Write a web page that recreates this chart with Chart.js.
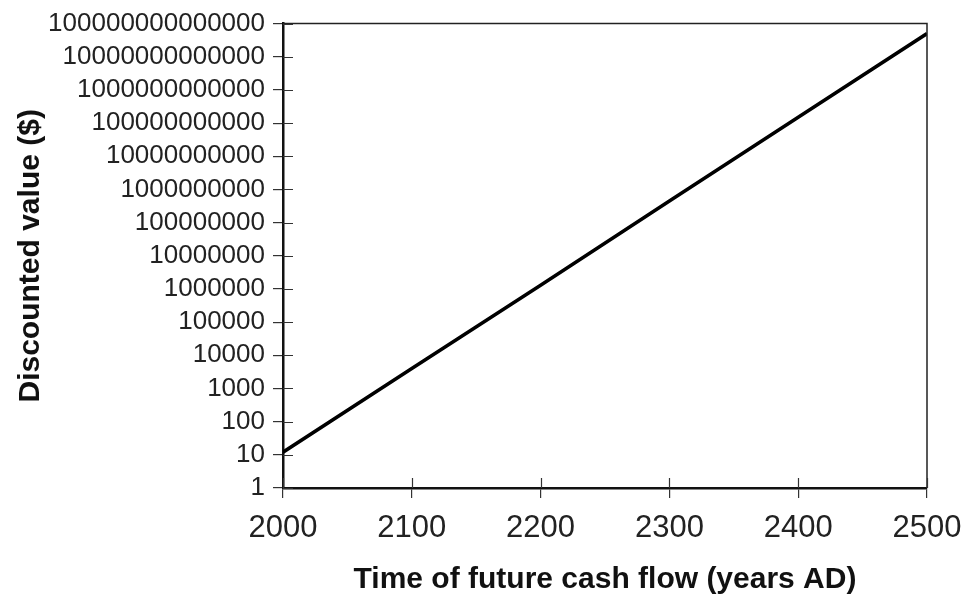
<!DOCTYPE html>
<html>
<head>
<meta charset="utf-8">
<script src="https://cdn.jsdelivr.net/npm/chart.js@4/dist/chart.umd.min.js"></script>
<style>
  html, body { margin: 0; padding: 0; background: #fff; }
  #wrap { width: 964px; height: 600px; }
</style>
</head>
<body>
<div id="wrap"><canvas id="c" width="964" height="600"></canvas></div>
<script>
// Discounted value of a future cash flow, by year
const years = [2000, 2100, 2200, 2300, 2400, 2500];
const discountedValues = [12, 4.0e3, 1.3e6, 4.5e8, 1.5e11, 5.0e13];

const xTickValues = [2000, 2100, 2200, 2300, 2400, 2500];
const yTickValues = [1, 10, 100, 1000, 10000, 100000, 1000000, 10000000, 100000000,
  1000000000, 10000000000, 100000000000, 1000000000000, 10000000000000,
  100000000000000];
const yTickLabels = ['1', '10', '100', '1000', '10000', '100000', '1000000', '10000000',
  '100000000', '1000000000', '10000000000', '100000000000', '1000000000000',
  '10000000000000', '100000000000000'];

const FONT = "'Liberation Sans', Arial, Helvetica, sans-serif";

// Frame on top/right plus tick stubs that reach into the plot area
const framePlugin = {
  id: 'frame',
  afterDraw(chart) {
    const { ctx, chartArea: a, scales } = chart;
    ctx.save();
    ctx.strokeStyle = '#222';
    ctx.lineWidth = 1.5;
    ctx.beginPath();
    ctx.moveTo(a.left, a.top); ctx.lineTo(a.right, a.top); ctx.lineTo(a.right, a.bottom);
    ctx.stroke();
    ctx.strokeStyle = '#333';
    ctx.lineWidth = 1.2;
    ctx.beginPath();
    scales.y.ticks.forEach(t => {
      const py = Math.round(scales.y.getPixelForValue(t.value)) + 0.5;
      ctx.moveTo(a.left, py); ctx.lineTo(a.left + 10, py);
    });
    scales.x.ticks.forEach(t => {
      const px = Math.round(scales.x.getPixelForValue(t.value)) + 0.5;
      ctx.moveTo(px, a.bottom); ctx.lineTo(px, a.bottom - 10);
    });
    ctx.stroke();
    ctx.restore();
  }
};

new Chart(document.getElementById('c'), {
  type: 'line',
  data: {
    datasets: [{
      data: years.map((x, i) => ({ x, y: discountedValues[i] })),
      borderColor: '#000',
      borderWidth: 3.5,
      pointRadius: 0,
      tension: 0,
      fill: false
    }]
  },
  options: {
    responsive: false,
    animation: false,
    layout: { padding: { left: 13, right: 37, top: 23, bottom: 2 } },
    plugins: { legend: { display: false }, tooltip: { enabled: false } },
    scales: {
      x: {
        type: 'linear',
        min: 2000,
        max: 2500,
        afterBuildTicks(scale) { scale.ticks = xTickValues.map(v => ({ value: v })); },
        afterFit(scale) {
          scale.height = 110;
          scale.paddingLeft = 0;
          scale.paddingRight = 0;
        },
        ticks: {
          callback: v => String(v),
          color: '#222',
          font: { family: FONT, size: 31 },
          padding: 12,
          maxRotation: 0
        },
        grid: { drawOnChartArea: false, drawTicks: true, tickLength: 10, color: '#333', lineWidth: 1.2 },
        border: { display: true, color: '#111', width: 2.5 },
        title: {
          display: true,
          text: 'Time of future cash flow (years AD)',
          color: '#111',
          font: { family: FONT, size: 30, weight: 'bold' },
          padding: { top: 4, bottom: 0 }
        }
      },
      y: {
        type: 'logarithmic',
        min: 1,
        max: 1e14,
        afterBuildTicks(scale) { scale.ticks = yTickValues.map(v => ({ value: v })); },
        afterFit(scale) { scale.width = 270; },
        ticks: {
          callback: (v, i) => yTickLabels[i],
          color: '#222',
          font: { family: FONT, size: 26 },
          padding: 8,
          autoSkip: false
        },
        grid: { drawOnChartArea: false, drawTicks: true, tickLength: 10, color: '#333', lineWidth: 1.2 },
        border: { display: true, color: '#111', width: 2.5 },
        title: {
          display: true,
          text: 'Discounted value ($)',
          color: '#111',
          font: { family: FONT, size: 30, weight: 'bold' },
          padding: { top: 0, bottom: 0 }
        }
      }
    }
  },
  plugins: [framePlugin]
});
</script>
</body>
</html>
